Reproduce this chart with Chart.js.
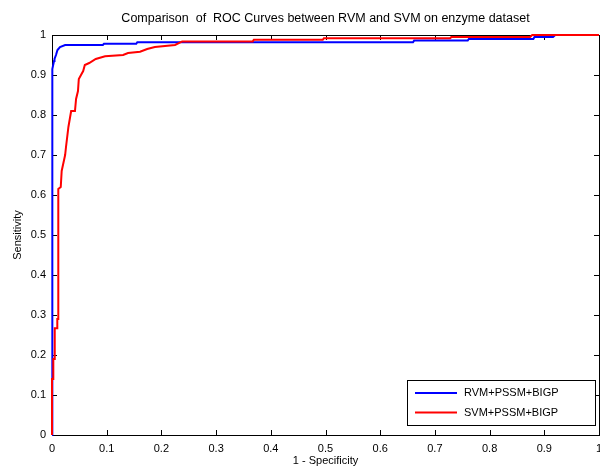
<!DOCTYPE html>
<html>
<head>
<meta charset="utf-8">
<script src="https://cdn.jsdelivr.net/npm/chart.js@4"></script>
<style>
  body { margin: 0; background: #fff; }
  canvas { display: block; }
</style>
</head>
<body>
<canvas id="roc" width="600" height="468"></canvas>
<script>
// ROC曲線のデータ
const rvmFpr = [0, 0.0006, 0.0037, 0.0046, 0.0073, 0.0100, 0.0146, 0.0240, 0.093, 0.095, 0.154, 0.156, 0.660, 0.662, 0.760, 0.762, 0.880, 0.882, 0.916, 0.920, 1]
const rvmTpr = [0, 0.915, 0.935, 0.940, 0.950, 0.9625, 0.970, 0.975, 0.975, 0.978, 0.978, 0.982, 0.982, 0.986, 0.986, 0.990, 0.990, 0.995, 0.995, 1, 1]

const svmFpr = [0, 0, 0.0024, 0.0024, 0.0050, 0.0050, 0.0097, 0.0097, 0.0115, 0.0115, 0.016, 0.0177, 0.024, 0.0256, 0.030, 0.035, 0.042, 0.044, 0.0475, 0.049, 0.053, 0.057, 0.060, 0.068, 0.080, 0.097, 0.130, 0.139, 0.161, 0.174, 0.188, 0.225, 0.238, 0.367, 0.369, 0.495, 0.497, 0.728, 0.730, 0.874, 0.878, 1]
const svmTpr = [0, 0.14, 0.14, 0.19, 0.19, 0.267, 0.267, 0.29, 0.29, 0.615, 0.62, 0.66, 0.70, 0.72, 0.77, 0.81, 0.81, 0.84, 0.86, 0.89, 0.90, 0.91, 0.925, 0.93, 0.94, 0.947, 0.95, 0.955, 0.958, 0.965, 0.97, 0.975, 0.984, 0.984, 0.988, 0.988, 0.992, 0.992, 0.995, 0.995, 1, 1]

const seriesLabels = ['RVM+PSSM+BIGP', 'SVM+PSSM+BIGP']
const seriesColors = ['#0000ff', '#ff0000']
const tickValues = [0, 0.1, 0.2, 0.3, 0.4, 0.5, 0.6, 0.7, 0.8, 0.9, 1]

const toPoints = (xs, ys) => xs.map((x, i) => ({ x: x, y: ys[i] }))
const fmt = v => String(Number(v.toFixed(1)))

Chart.defaults.font.family = "'Liberation Sans', Arial, Helvetica, sans-serif"
Chart.defaults.color = '#000'

// MATLAB風の枠と内向きの目盛り、凡例
const boxPlugin = {
  id: 'box',
  beforeDatasetsDraw(chart) {
    const ctx = chart.ctx
    const a = chart.chartArea
    const xs = chart.scales.x
    const ys = chart.scales.y
    ctx.save()
    ctx.strokeStyle = '#000'
    ctx.lineWidth = 1
    ctx.beginPath()
    tickValues.forEach(v => {
      const px = Math.round(xs.getPixelForValue(v)) + 0.5
      ctx.moveTo(px, a.bottom); ctx.lineTo(px, a.bottom - 5)
      ctx.moveTo(px, a.top); ctx.lineTo(px, a.top + 5)
      const py = Math.round(ys.getPixelForValue(v)) + 0.5
      ctx.moveTo(a.left, py); ctx.lineTo(a.left + 5, py)
      ctx.moveTo(a.right, py); ctx.lineTo(a.right - 5, py)
    })
    ctx.stroke()
    ctx.strokeRect(Math.round(a.left) + 0.5, Math.round(a.top) + 0.5, Math.round(a.right - a.left), Math.round(a.bottom - a.top))
    ctx.restore()
  },
  afterDraw(chart) {
    const ctx = chart.ctx
    ctx.save()
    const lx = 407, ly = 380, lw = 188, lh = 45
    ctx.fillStyle = '#fff'
    ctx.fillRect(lx, ly, lw, lh)
    ctx.strokeStyle = '#000'
    ctx.lineWidth = 1
    ctx.strokeRect(lx + 0.5, ly + 0.5, lw, lh)
    ctx.font = "11px 'Liberation Sans', Arial, Helvetica, sans-serif"
    ctx.textBaseline = 'middle'
    chart.data.datasets.forEach((ds, i) => {
      const y = ly + 13 + i * 19.5
      ctx.strokeStyle = ds.borderColor
      ctx.lineWidth = 2
      ctx.beginPath()
      ctx.moveTo(415, y); ctx.lineTo(457, y)
      ctx.stroke()
      ctx.fillStyle = '#000'
      ctx.fillText(ds.label, 464, y)
    })
    ctx.restore()
  }
}

new Chart(document.getElementById('roc'), {
  type: 'line',
  data: {
    datasets: [
      {
        label: seriesLabels[0],
        data: toPoints(rvmFpr, rvmTpr),
        borderColor: seriesColors[0],
        borderWidth: 2,
        pointRadius: 0,
        tension: 0,
        clip: false,
        order: 2
      },
      {
        label: seriesLabels[1],
        data: toPoints(svmFpr, svmTpr),
        borderColor: seriesColors[1],
        borderWidth: 2,
        pointRadius: 0,
        tension: 0,
        clip: false,
        order: 1
      }
    ]
  },
  options: {
    responsive: false,
    animation: false,
    layout: { padding: { right: 1 } },
    plugins: {
      legend: { display: false },
      tooltip: { enabled: false },
      title: {
        display: true,
        text: 'Comparison  of  ROC Curves between RVM and SVM on enzyme dataset',
        fullSize: false,
        color: '#000',
        font: { size: 12.5, weight: 'normal' },
        padding: { top: 11, bottom: 9 }
      }
    },
    scales: {
      x: {
        type: 'linear',
        min: 0,
        max: 1,
        grid: { display: false, drawTicks: false },
        border: { display: false },
        ticks: {
          stepSize: 0.1,
          padding: 7,
          maxRotation: 0,
          autoSkip: false,
          font: { size: 11 },
          callback: v => fmt(v)
        },
        title: {
          display: true,
          text: '1 - Specificity',
          font: { size: 11 },
          padding: { top: 0, bottom: 0 }
        },
        afterFit(scale) {
          scale.height = 33
          scale.paddingLeft = 0
          scale.paddingRight = 0
        }
      },
      y: {
        min: 0,
        max: 1,
        grid: { display: false, drawTicks: false },
        border: { display: false },
        ticks: {
          stepSize: 0.1,
          padding: 6,
          autoSkip: false,
          font: { size: 11 },
          callback: v => fmt(v)
        },
        title: {
          display: true,
          text: 'Sensitivity',
          font: { size: 11 },
          padding: { top: 11, bottom: 0 }
        },
        afterFit(scale) {
          scale.width = 52
          scale.paddingTop = 0
          scale.paddingBottom = 0
        }
      }
    }
  },
  plugins: [boxPlugin]
})
</script>
</body>
</html>
